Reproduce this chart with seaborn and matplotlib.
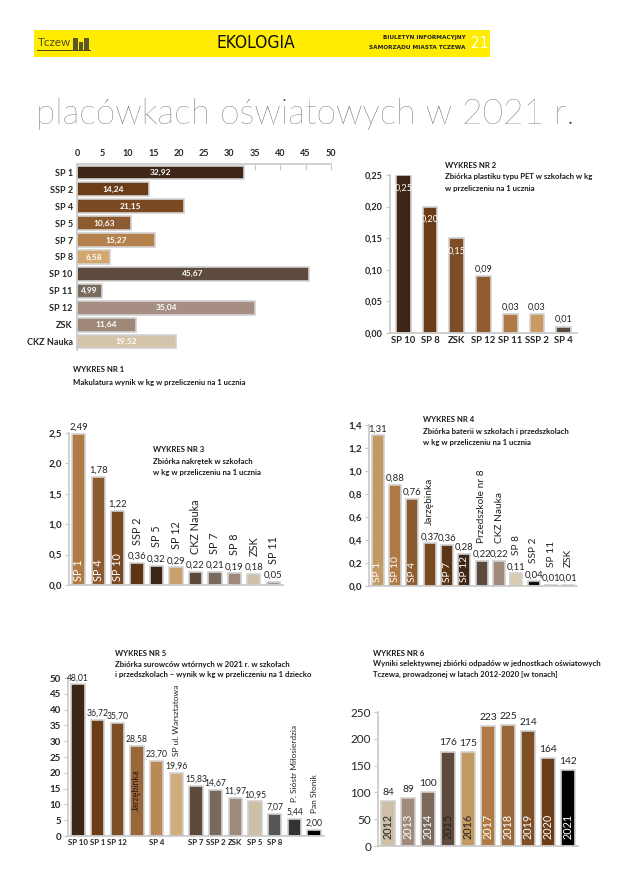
import numpy as np
import pandas as pd
import matplotlib.pyplot as plt
import seaborn as sns
from matplotlib.patches import Rectangle
from matplotlib.ticker import FuncFormatter

# WYKRES NR 1 - makulatura
w1_names = ["SP 1", "SSP 2", "SP 4", "SP 5", "SP 7", "SP 8", "SP 10", "SP 11", "SP 12", "ZSK", "CKZ Nauka"]
w1_vals = [32.92, 14.24, 21.15, 10.63, 15.27, 6.58, 45.67, 4.99, 35.04, 11.64, 19.52]
w1_cols = ["#3f2616", "#6a3c17", "#7b4a22", "#8d5b30", "#b5824e", "#d2a66c",
           "#5e4b3d", "#7a6b5f", "#a68f82", "#a08878", "#d3c4ab"]

# WYKRES NR 2 - PET
w2_names = ["SP 10", "SP 8", "ZSK", "SP 12", "SP 11", "SSP 2", "SP 4"]
w2_vals = [0.25, 0.20, 0.15, 0.09, 0.03, 0.03, 0.01]
w2_cols = ["#3e2516", "#6a3c17", "#7d4d25", "#8f5b2f", "#b07a45", "#c99b63", "#5b4a3e"]
w2_inside = [True, True, True, False, False, False, False]

# WYKRES NR 3 - nakretki
w3_names = ["SP 1", "SP 4", "SP 10", "SSP 2", "SP 5", "SP 12", "CKZ Nauka", "SP 7", "SP 8", "ZSK", "SP 11"]
w3_vals = [2.49, 1.78, 1.22, 0.36, 0.32, 0.29, 0.22, 0.21, 0.19, 0.18, 0.05]
w3_cols = ["#b07b47", "#8d5b30", "#7a4a22", "#5c3516", "#3d2616", "#c9a06c",
           "#5e4a3c", "#7b6a5c", "#a08a7c", "#cdbfa8", "#9a9a9a"]
w3_inside = [True, True, True] + [False] * 8

# WYKRES NR 4 - baterie
w4_names = ["SP 1", "SP 10", "SP 4", "Jarzębinka", "SP 7", "SP 12", "Przedszkole nr 8",
            "CKZ Nauka", "SP 8", "SSP 2", "SP 11", "ZSK"]
w4_vals = [1.31, 0.88, 0.76, 0.37, 0.36, 0.28, 0.22, 0.22, 0.11, 0.04, 0.01, 0.01]
w4_cols = ["#c49a63", "#b07a45", "#8d5b30", "#7a4a22", "#5c3516", "#3d2616",
           "#5e4a3c", "#a08a7c", "#d8cbb2", "#111111", "#aaaaaa", "#aaaaaa"]
w4_inside = [True, True, True, False, True, True, False, False, False, False, False, False]

# WYKRES NR 5 - surowce wtorne
w5_names = ["SP 10", "SP 1", "SP 12", "Jarzębinka", "SP 4", "SP ul. Warsztatowa", "SP 7", "SSP 2",
            "ZSK", "SP 5", "SP 8", "P. Sióstr Miłosierdzia", "Pan Słonik"]
w5_vals = [48.01, 36.72, 35.70, 28.58, 23.70, 19.96, 15.83, 14.67, 11.97, 10.95, 7.07, 5.44, 2.00]
w5_cols = ["#3d2616", "#6a3c17", "#7d4d25", "#9a673a", "#b98a55", "#cfae7c", "#5e4a3c",
           "#7b6a5c", "#a08a7c", "#cdbfa8", "#555555", "#333333", "#000000"]
w5_ticks = ["SP 10", "SP 1", "SP 12", "", "SP 4", "", "SP 7", "SSP 2", "ZSK", "SP 5", "SP 8", "", ""]
w5_rot = ["", "", "", "Jarzębinka", "", "SP ul. Warsztatowa", "", "", "", "", "", "P. Sióstr Miłosierdzia", "Pan Słonik"]

# WYKRES NR 6 - lata 2012-2021
w6_years = ["2012", "2013", "2014", "2015", "2016", "2017", "2018", "2019", "2020", "2021"]
w6_vals = [84, 89, 100, 176, 175, 223, 225, 214, 164, 142]
w6_cols = ["#cdbfa8", "#a08a7c", "#7b6a5c", "#5e4a3c", "#c49a63", "#b07a45",
           "#9a673a", "#7e4e26", "#6a3c17", "#000000"]
w6_txt = ["#222", "white", "white", "#222", "#222", "white", "white", "white", "white", "white"]

sns.set_style("white")
plt.rcParams["font.family"] = ["Lato", "DejaVu Sans"]

W, H = 622, 871
fig = plt.figure(figsize=(6.22, 8.71), dpi=100)
EDGE = "#d2d2d2"


def box(x0, y0, x1, y1):
    return fig.add_axes([x0 / W, 1 - y1 / H, (x1 - x0) / W, (y1 - y0) / H])


def pl(v, d=2):
    return f"{v:.{d}f}".replace(".", ",")


def caption(x, y, lines, gap=11):
    for i, t in enumerate(lines):
        fig.text(x / W, 1 - (y + i * gap) / H, t, fontsize=5.6, fontweight="bold",
                 va="center", ha="left", color="#1a1a1a")


def bars(ax, names, vals, cols, width):
    df = pd.DataFrame({"n": names, "v": vals})
    sns.barplot(data=df, x="n", y="v", hue="n", palette=cols, legend=False, ax=ax,
                width=width, saturation=1, edgecolor=EDGE, linewidth=1.2)
    ax.set_xlabel("")
    ax.set_ylabel("")


def style(ax, ymax, step, dec, size=7, bold=True):
    ax.set_ylim(0, ymax)
    ax.set_yticks(np.arange(0, ymax + step / 2, step))
    ax.yaxis.set_major_formatter(FuncFormatter(lambda v, p: pl(v, dec)))
    sns.despine(ax=ax)
    for s in ["left", "bottom"]:
        ax.spines[s].set_color("#c8c8c8")
        ax.spines[s].set_linewidth(1.2)
    ax.tick_params(axis="y", left=True, length=3, color="#c8c8c8", labelsize=size, pad=2)
    ax.tick_params(axis="x", length=0, labelsize=6.8, pad=2)
    if bold:
        for t in ax.get_yticklabels():
            t.set_fontweight("bold")


# naglowek
fig.patches.append(Rectangle((34 / W, 1 - 57 / H), 456 / W, 27 / H, transform=fig.transFigure,
                             facecolor="#ffec00", edgecolor="none"))
fig.text(38 / W, 1 - 42 / H, "Tczew", fontsize=8.5, color="#4d4b22", ha="left", va="center")
for x0, w, h in [(73, 5, 12), (79, 4, 8), (84, 5, 12)]:
    fig.patches.append(Rectangle((x0 / W, 1 - 50 / H), w / W, h / H, transform=fig.transFigure,
                                 facecolor="#5a5628", edgecolor="none"))
fig.patches.append(Rectangle((37 / W, 1 - 51 / H), 54 / W, 1.2 / H, transform=fig.transFigure,
                             facecolor="#4d4b22", edgecolor="none"))
fig.text(256 / W, 1 - 43 / H, "EKOLOGIA", fontsize=12.5, color="#111", ha="center", va="center",
         family="DejaVu Sans", fontstretch="condensed")
fig.text(466 / W, 1 - 37.5 / H, "BIULETYN INFORMACYJNY", fontsize=4.6, fontweight="bold",
         color="#222", ha="right", va="center", family="DejaVu Sans", fontstretch="condensed")
fig.text(466 / W, 1 - 48 / H, "SAMORZĄDU MIASTA TCZEWA", fontsize=4.6, fontweight="bold",
         color="#222", ha="right", va="center", family="DejaVu Sans", fontstretch="condensed")
fig.text(488 / W, 1 - 43 / H, "21", fontsize=11, color="white", ha="right", va="center",
         family="DejaVu Sans", fontstretch="condensed")

fig.text(36 / W, 1 - 114 / H, "placówkach oświatowych w 2021 r.", fontsize=25.5, color="#4a4a4a",
         ha="left", va="center", fontweight="light")

# wykres 1 (poziomy)
ax1 = box(77, 164, 331, 350)
df1 = pd.DataFrame({"n": w1_names, "v": w1_vals})
sns.barplot(data=df1, y="n", x="v", hue="n", palette=w1_cols, legend=False, orient="h", ax=ax1,
            width=0.82, saturation=1, edgecolor=EDGE, linewidth=1.2)
ax1.set_xlim(0, 50)
ax1.set_xticks(np.arange(0, 51, 5))
ax1.xaxis.tick_top()
ax1.set_xlabel("")
ax1.set_ylabel("")
sns.despine(ax=ax1, top=False, bottom=True, right=True)
for s in ["left", "top"]:
    ax1.spines[s].set_color("#c8c8c8")
    ax1.spines[s].set_linewidth(1.2)
ax1.tick_params(axis="x", top=True, direction="in", length=4, color="#c8c8c8", labelsize=6.5, pad=4)
ax1.tick_params(axis="y", length=0, labelsize=6.5, pad=3)
for t in ax1.get_xticklabels() + ax1.get_yticklabels():
    t.set_fontweight("bold")
for i, v in enumerate(w1_vals):
    ax1.text(v / 2, i, pl(v), color="white", fontsize=6, fontweight="bold", ha="center", va="center")
caption(73, 370, ["WYKRES NR 1", "Makulatura wynik w kg w przeliczeniu na 1 ucznia"], gap=12)

# wykres 2
ax2 = box(390, 175, 577, 333)
bars(ax2, w2_names, w2_vals, w2_cols, 0.55)
style(ax2, 0.25, 0.05, 2, size=6.5)
for t in ax2.get_xticklabels():
    t.set_fontweight("bold")
for i, (v, ins) in enumerate(zip(w2_vals, w2_inside)):
    if ins:
        ax2.annotate(pl(v), (i, v), xytext=(0, -6), textcoords="offset points", ha="center",
                     va="top", color="white", fontsize=6.6)
    else:
        ax2.annotate(pl(v), (i, v), xytext=(0, 2), textcoords="offset points", ha="center",
                     va="bottom", color="#222", fontsize=6.5)
caption(445, 166, ["WYKRES NR 2", "Zbiórka plastiku typu PET w szkołach w kg", "w przeliczeniu na 1 ucznia"])


def rotated(ax, names, vals, inside, size, off=13):
    for i, (n, v, ins) in enumerate(zip(names, vals, inside)):
        ax.annotate(pl(v), (i, v), xytext=(0, 1.5), textcoords="offset points", ha="center",
                    va="bottom", color="#222", fontsize=6.8, annotation_clip=False)
        if ins:
            ax.annotate(n, (i, 0), xytext=(0, 3), textcoords="offset points", ha="center",
                        va="bottom", rotation=90, color="white", fontsize=size)
        else:
            ax.annotate(n, (i, v), xytext=(0, off), textcoords="offset points", ha="center",
                        va="bottom", rotation=90, color="#222", fontsize=size,
                        annotation_clip=False)


# wykres 3
ax3 = box(69, 433, 283, 585)
bars(ax3, w3_names, w3_vals, w3_cols, 0.68)
style(ax3, 2.5, 0.5, 1)
ax3.set_xticks([])
rotated(ax3, w3_names, w3_vals, w3_inside, 7.8)
caption(153, 450, ["WYKRES NR 3", "Zbiórka nakrętek w szkołach", "w kg w przeliczeniu na 1 ucznia"])

# wykres 4
ax4 = box(369, 425, 577, 586)
bars(ax4, w4_names, w4_vals, w4_cols, 0.68)
style(ax4, 1.4, 0.2, 1)
ax4.set_xticks([])
rotated(ax4, w4_names, w4_vals, w4_inside, 7.3)
caption(423, 420, ["WYKRES NR 4", "Zbiórka baterii w szkołach i przedszkolach",
                   "w kg w przeliczeniu na 1 ucznia"])

# wykres 5
ax5 = box(68, 678, 324, 836)
bars(ax5, w5_names, w5_vals, w5_cols, 0.68)
style(ax5, 50, 5, 0)
ax5.set_xticks(range(len(w5_ticks)))
ax5.set_xticklabels(w5_ticks, fontweight="bold", fontsize=5.6)
for i, (v, n) in enumerate(zip(w5_vals, w5_rot)):
    ax5.annotate(pl(v), (i, v), xytext=(0, 1.5), textcoords="offset points", ha="center",
                 va="bottom", color="#222", fontsize=6.2, annotation_clip=False)
    if n == "Jarzębinka":
        ax5.annotate(n, (i, 0), xytext=(0, 18), textcoords="offset points", ha="center",
                     va="bottom", rotation=90, color="#2a1a10", fontsize=6.5)
    elif n:
        ax5.annotate(n, (i, v), xytext=(0, 12), textcoords="offset points", ha="center",
                     va="bottom", rotation=90, color="#222", fontsize=6,
                     annotation_clip=False)
caption(115, 654, ["WYKRES NR 5", "Zbiórka surowców wtórnych w 2021 r. w szkołach",
                   "i przedszkolach – wynik w kg w przeliczeniu na 1 dziecko"], gap=10)

# wykres 6
ax6 = box(378, 712, 578, 846)
bars(ax6, w6_years, w6_vals, w6_cols, 0.7)
style(ax6, 250, 50, 0, size=8.5, bold=False)
ax6.set_xticks([])
for i, (y, v, c) in enumerate(zip(w6_years, w6_vals, w6_txt)):
    ax6.annotate(str(v), (i, v), xytext=(0, 3), textcoords="offset points", ha="center",
                 va="bottom", color="#222", fontsize=7.4, annotation_clip=False)
    ax6.annotate(y, (i, 0), xytext=(0, 5), textcoords="offset points", ha="center",
                 va="bottom", rotation=90, color=c, fontsize=7.8)
caption(373, 653, ["WYKRES NR 6", "Wyniki selektywnej zbiórki odpadów w jednostkach oświatowych",
                   "Tczewa, prowadzonej w latach 2012-2020 [w tonach]"], gap=10.5)

fig.savefig("out.png", dpi=100, facecolor="white")
